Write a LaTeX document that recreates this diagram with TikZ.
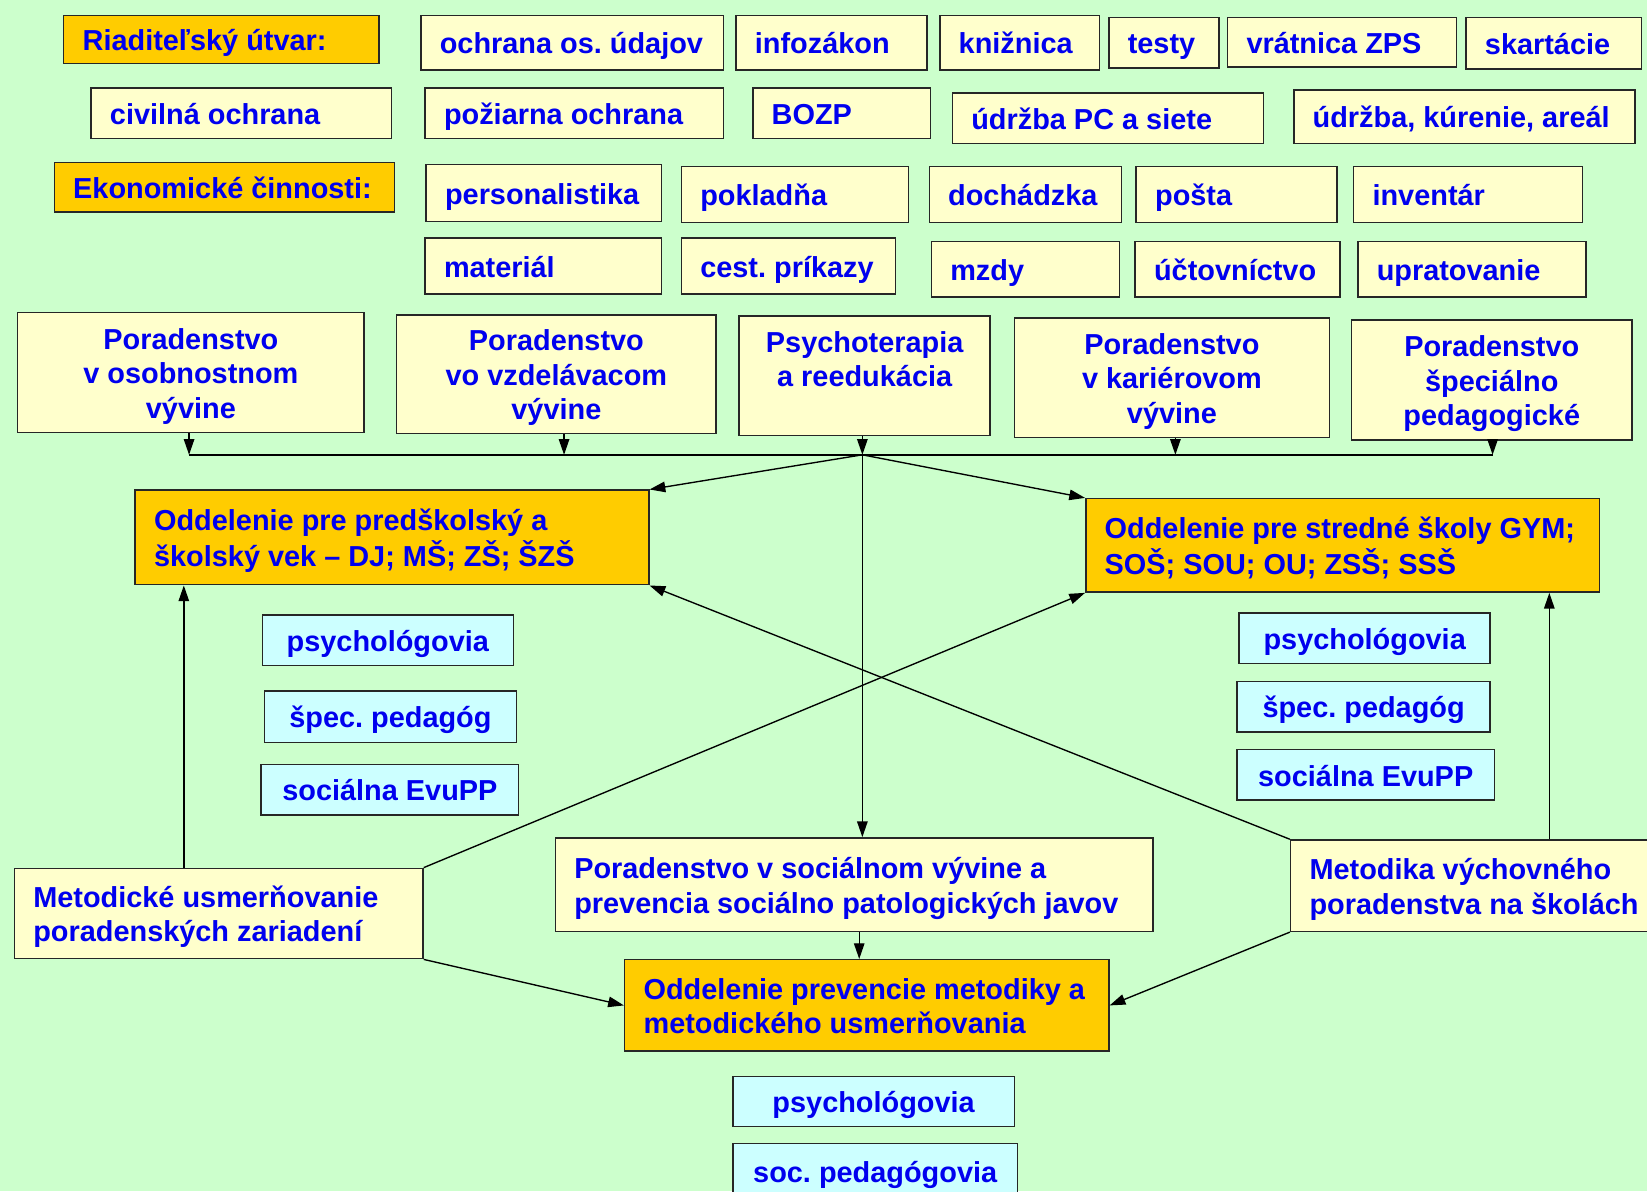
\documentclass[tikz,border=0pt]{standalone}
\usepackage{fontspec}
\setmainfont{Liberation Sans}
\usetikzlibrary{arrows.meta,calc}
\definecolor{bg}{HTML}{CCFFCC}
\definecolor{ylw}{HTML}{FFFFCC}
\definecolor{org}{HTML}{FFCC00}
\definecolor{cyn}{HTML}{CCFFFF}
\definecolor{txt}{HTML}{0000EE}
\frenchspacing
\tikzset{
  bxs/.style={draw=black!85, line width=1.4pt, inner xsep=18pt, inner ysep=0pt,
    anchor=north west, text=txt, font=\fontsize{27.5}{33}\selectfont\bfseries\frenchspacing},
  yl/.style={bxs, fill=ylw},
  ob/.style={bxs, fill=org},
  cb/.style={bxs, fill=cyn},
  arr/.style={line width=1.3pt, -{Triangle[length=15pt,width=10pt]}},
  ln/.style={line width=1.3pt},
}
\newcommand{\bx}[8]{%
  \pgfmathsetmacro\bw{#5-#3}\pgfmathsetmacro\bh{#6-#4}\pgfmathsetmacro\tw{#5-#3-36}%
  \node[#1, minimum width=\bw pt, minimum height=\bh pt] (#2) at (#3,#4)
    {\raisebox{-4pt}[\height][\depth]{\makebox[\tw pt][#7]{\begin{tabular}{@{}#7@{}}#8\end{tabular}}}};}
\begin{document}
\begin{tikzpicture}[x=1pt,y=-1pt]
\fill[bg] (0,0) rectangle (1568,1134);
\useasboundingbox (0,0) rectangle (1568,1134);
% row 1
\bx{ob}{r}{60}{14}{360}{60}{l}{Riaditeľský útvar:}
\bx{yl}{a1}{400}{14}{688}{66}{l}{ochrana os. údajov}
\bx{yl}{a2}{700}{14}{882}{66}{l}{infozákon}
\bx{yl}{a3}{894}{14}{1046}{66}{l}{knižnica}
\bx{yl}{a4}{1055}{16}{1160}{64}{l}{testy}
\bx{yl}{a5}{1168}{16}{1386}{63}{l}{vrátnica ZPS}
\bx{yl}{a6}{1395}{16}{1562}{65}{l}{skartácie}
% row 2
\bx{yl}{b1}{86}{83}{372}{131}{l}{civilná ochrana}
\bx{yl}{b2}{404}{83}{688}{131}{l}{požiarna ochrana}
\bx{yl}{b3}{716}{83}{885}{131}{l}{BOZP}
\bx{yl}{b4}{906}{88}{1202}{136}{l}{údržba PC a siete}
\bx{yl}{b5}{1231}{85}{1556}{136}{l}{údržba, kúrenie, areál}
% row 3
\bx{ob}{e}{51}{154}{375}{201}{l}{Ekonomické činnosti:}
\bx{yl}{c1}{405}{156}{629}{210}{l}{personalistika}
\bx{yl}{c2}{648}{158}{864}{211}{l}{pokladňa}
\bx{yl}{c3}{884}{158}{1067}{211}{l}{dochádzka}
\bx{yl}{c4}{1081}{158}{1272}{211}{l}{pošta}
\bx{yl}{c5}{1288}{158}{1506}{211}{l}{inventár}
% row 4
\bx{yl}{d1}{404}{226}{629}{279}{l}{materiál}
\bx{yl}{d2}{648}{226}{852}{279}{l}{cest. príkazy}
\bx{yl}{d3}{886}{229}{1065}{282}{l}{mzdy}
\bx{yl}{d4}{1080}{229}{1275}{282}{l}{účtovníctvo}
\bx{yl}{d5}{1292}{229}{1509}{282}{l}{upratovanie}
% row 5
\bx{yl}{P1}{16}{297}{346}{411}{c}{Poradenstvo\\v osobnostnom\\vývine}
\bx{yl}{P2}{377}{299}{681}{412}{c}{Poradenstvo\\vo vzdelávacom\\vývine}
\bx{yl}{P3}{703}{300}{942}{414}{c}{Psychoterapia\\a reedukácia\\~}
\bx{yl}{P4}{965}{302}{1265}{416}{c}{Poradenstvo\\v kariérovom\\vývine}
\bx{yl}{P5}{1286}{304}{1553}{418}{c}{Poradenstvo\\špeciálno\\pedagogické}
% departments
\bx{ob}{O1}{128}{466}{617}{556}{l}{Oddelenie pre predškolský a\\školský vek – DJ; MŠ; ZŠ; ŠZŠ}
\bx{ob}{O2}{1033}{474}{1522}{563}{l}{Oddelenie pre stredné školy GYM;\\SOŠ; SOU; OU; ZSŠ; SSŠ}
% staff
\bx{cb}{s1}{249}{585}{488}{633}{c}{psychológovia}
\bx{cb}{s2}{251}{657}{491}{706}{c}{špec. pedagóg}
\bx{cb}{s3}{248}{727}{493}{775}{c}{sociálna EvuPP}
\bx{cb}{t1}{1179}{583}{1418}{631}{c}{psychológovia}
\bx{cb}{t2}{1177}{648}{1418}{696}{c}{špec. pedagóg}
\bx{cb}{t3}{1177}{713}{1422}{761}{c}{sociálna EvuPP}
\bx{cb}{u1}{697}{1024}{965}{1072}{c}{psychológovia}
\bx{cb}{u2}{697}{1088}{968}{1140}{c}{soc. pedagógovia}
% bottom
\bx{yl}{M1}{13}{826}{402}{912}{l}{Metodické usmerňovanie\\poradenských zariadení}
\bx{yl}{PS}{528}{797}{1097}{886}{l}{Poradenstvo v sociálnom vývine a\\prevencia sociálno patologických javov}
\bx{yl}{M2}{1228}{799}{1580}{886}{l}{Metodika výchovného\\poradenstva na školách}
\bx{ob}{O3}{594}{913}{1055}{1000}{l}{Oddelenie prevencie metodiky a\\metodického usmerňovania}
% bus
\coordinate (k1) at (180,433);
\coordinate (k2) at (537,433);
\coordinate (k3) at (821,433);
\coordinate (k4) at (1119,433);
\coordinate (k5) at (1421,433);
\coordinate (xl) at (175,0);
\coordinate (xr) at (1475,0);
\coordinate (xm) at (818,0);
\draw[ln] (k1) -- (k5);
\foreach \i in {1,...,5} {\draw[arr] (P\i.south -| k\i) -- (k\i);}
\draw[arr] (k3) -- (O1.north east);
\draw[arr] (k3) -- (O2.north west);
\draw[arr] (k3) -- (k3 |- PS.north);
\draw[arr] (M1.north -| xl) -- (O1.south -| xl);
\draw[arr] (M2.north -| xr) -- (O2.south -| xr);
\draw[arr] (M1.north east) -- (O2.south west);
\draw[arr] (M2.north west) -- (O1.south east);
\draw[arr] (PS.south -| xm) -- (O3.north -| xm);
\draw[arr] (M1.south east) -- (O3.west);
\draw[arr] (M2.south west) -- (O3.east);
\end{tikzpicture}
\end{document}
